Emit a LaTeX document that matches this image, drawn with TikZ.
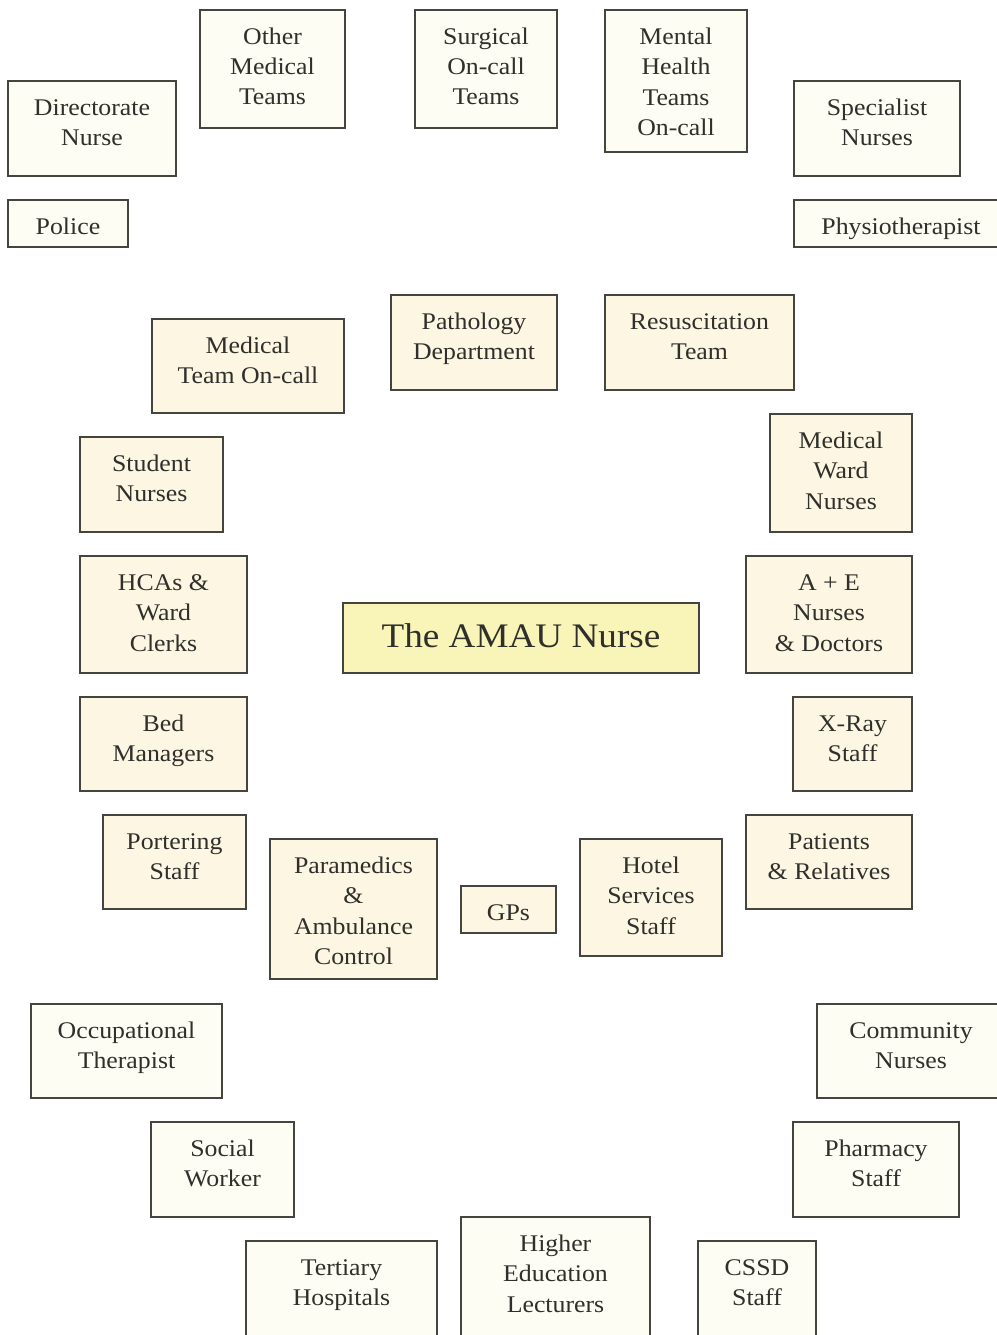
\documentclass[tikz,border=0pt]{standalone}
\usepackage{fontspec}
\setmainfont{Liberation Serif}[FakeStretch=1.08]
\definecolor{ivory}{HTML}{FDFDF3}
\definecolor{cream}{HTML}{FCF6E3}
\definecolor{lemon}{HTML}{F9F5B8}
\definecolor{ink}{HTML}{2F2F2B}
\definecolor{edge}{HTML}{45453F}
\begin{document}
\begin{tikzpicture}[x=0.02cm,y=-0.02cm,
    outer/.style={draw=edge, line width=1pt, fill=ivory},
    inner/.style={draw=edge, line width=1pt, fill=cream},
    lbl/.style={anchor=base, align=center, inner sep=0pt, text=ink,
      font=\fontsize{13.6}{17.3}\selectfont}]
  \useasboundingbox (0,0) rectangle (997,1335);
  % outer ring (label at baseline of last line)
  \draw[outer] (8,81) rectangle (176,176);
  \node[lbl] (dirnurse) at (92,145.5) {Directorate\\Nurse};
  \draw[outer] (200,10) rectangle (345,128);
  \node[lbl] (othermed) at (272.5,105) {Other\\Medical\\Teams};
  \draw[outer] (415,10) rectangle (557,128);
  \node[lbl] (surgical) at (486,105) {Surgical\\On-call\\Teams};
  \draw[outer] (605,10) rectangle (747,152);
  \node[lbl] (mental) at (676,135.5) {Mental\\Health\\Teams\\On-call};
  \draw[outer] (794,81) rectangle (960,176);
  \node[lbl] (specialist) at (877,145.5) {Specialist\\Nurses};
  \draw[outer] (8,200) rectangle (128,247);
  \node[lbl] (police) at (68,234) {Police};
  \draw[outer] (794,200) rectangle (1008,247);
  \node[lbl] (physio) at (901,234) {Physiotherapist};
  \draw[outer] (31,1004) rectangle (222,1098);
  \node[lbl] (occupational) at (126.5,1068.5) {Occupational\\Therapist};
  \draw[outer] (817,1004) rectangle (1005,1098);
  \node[lbl] (community) at (911,1068.5) {Community\\Nurses};
  \draw[outer] (151,1122) rectangle (294,1217);
  \node[lbl] (social) at (222.5,1186.5) {Social\\Worker};
  \draw[outer] (793,1122) rectangle (959,1217);
  \node[lbl] (pharmacy) at (876,1186.5) {Pharmacy\\Staff};
  \draw[outer] (246,1241) rectangle (437,1345);
  \node[lbl] (tertiary) at (341.5,1305.5) {Tertiary\\Hospitals};
  \draw[outer] (461,1217) rectangle (650,1345);
  \node[lbl] (highered) at (555.5,1312) {Higher\\Education\\Lecturers};
  \draw[outer] (698,1241) rectangle (816,1345);
  \node[lbl] (cssd) at (757,1305.5) {CSSD\\Staff};
  % inner ring
  \draw[inner] (152,319) rectangle (344,413);
  \node[lbl] (medteam) at (248,383.5) {Medical\\Team On-call};
  \draw[inner] (391,295) rectangle (557,390);
  \node[lbl] (pathology) at (474,359.5) {Pathology\\Department};
  \draw[inner] (605,295) rectangle (794,390);
  \node[lbl] (resus) at (699.5,359.5) {Resuscitation\\Team};
  \draw[inner] (80,437) rectangle (223,532);
  \node[lbl] (student) at (151.5,501.5) {Student\\Nurses};
  \draw[inner] (770,414) rectangle (912,532);
  \node[lbl] (medward) at (841,509) {Medical\\Ward\\Nurses};
  \draw[inner] (80,556) rectangle (247,673);
  \node[lbl] (hcas) at (163.5,651) {HCAs \&\\Ward\\Clerks};
  \draw[inner] (746,556) rectangle (912,673);
  \node[lbl] (ae) at (829,651) {A + E\\Nurses\\\& Doctors};
  \draw[inner] (80,697) rectangle (247,791);
  \node[lbl] (bedmgr) at (163.5,761.5) {Bed\\Managers};
  \draw[inner] (793,697) rectangle (912,791);
  \node[lbl] (xray) at (852.5,761.5) {X-Ray\\Staff};
  \draw[inner] (103,815) rectangle (246,909);
  \node[lbl] (portering) at (174.5,879.5) {Portering\\Staff};
  \draw[inner] (270,839) rectangle (437,979);
  \node[lbl] (paramedics) at (353.5,964.5) {Paramedics\\\&\\Ambulance\\Control};
  \draw[inner] (461,886) rectangle (556,933);
  \node[lbl] (gps) at (508.5,920) {GPs};
  \draw[inner] (580,839) rectangle (722,956);
  \node[lbl] (hotel) at (651,934) {Hotel\\Services\\Staff};
  \draw[inner] (746,815) rectangle (912,909);
  \node[lbl] (patients) at (829,879.5) {Patients\\\& Relatives};
  % centre
  \draw[draw=edge, line width=1pt, fill=lemon] (343,603) rectangle (699,673);
  \node[lbl, font=\fontsize{19.6}{24}\selectfont] (amau) at (521,647) {The AMAU Nurse};
\end{tikzpicture}
\end{document}
